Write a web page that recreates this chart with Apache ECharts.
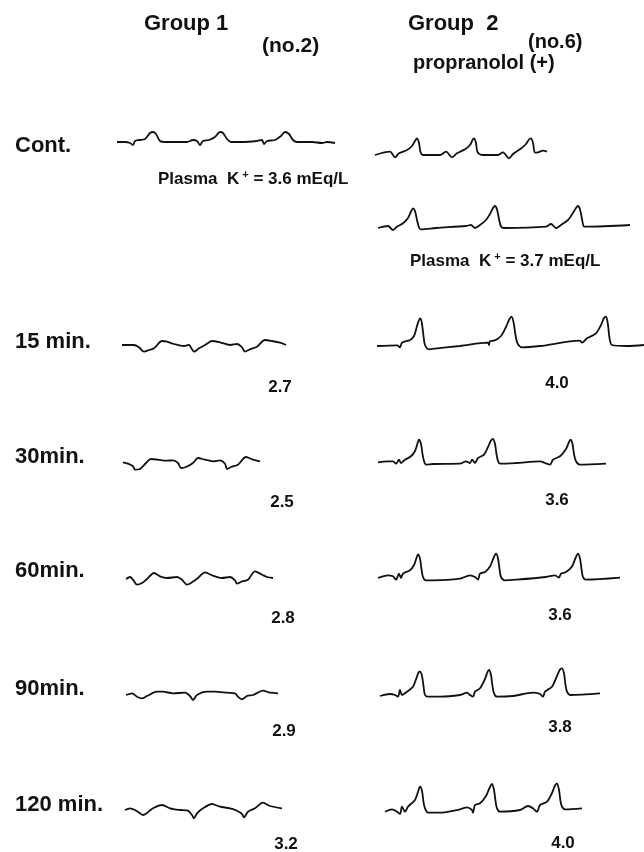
<!DOCTYPE html>
<html>
<head>
<meta charset="utf-8">
<script src="https://cdn.jsdelivr.net/npm/echarts@6/dist/echarts.min.js"></script>
<style>
html,body{margin:0;padding:0;background:#fff;}
#chart{width:644px;height:852px;}
</style>
</head>
<body>
<div id="chart"></div>
<script>
// ---- DATA (time unit ~10 ms, amplitude unit ~0.01 mV; read from the tracings) ----
const rowLabels = ['Cont.', '15 min.', '30min.', '60min.', '90min.', '120 min.'];
const group1K = ['2.7', '2.5', '2.8', '2.9', '3.2'];
const group2K = ['4.0', '3.6', '3.6', '3.8', '4.0'];
const contK1 = '3.6';
const contK2 = '3.7';

// Group 1 (no.2)
const g1Cont = [[0,0],[8,0],[13,-1],[16,-3],[18,1],[22,2],[28,3],[33,9],[36,10],[39,8],[43,1],[48,0],[60,0],[70,0],[76,2],[80,1],[83,-3],[86,1],[92,2],[98,5],[103,10],[106,9],[110,3],[114,0],[125,0],[140,1],[145,2],[147,-2],[150,1],[158,2],[164,6],[168,10],[172,8],[176,2],[180,0],[195,0],[205,-1],[210,0],[218,-1]];
const g1Min15 = [[0,0],[12,0],[17,-2.3],[22,-6.7],[27,-5],[32,-3.3],[40,4],[45,3.3],[52,1],[62,-1],[67,0],[70,-4.3],[72,-6.7],[77,-3.3],[83,0],[90,4],[98,2.7],[108,0],[115,1],[120,-2.3],[123,-6.7],[128,-4.3],[135,-1.7],[143,5],[150,4],[158,2.3],[164,0]];
const g1Min30 = [[0,0.7],[5,-0.7],[10,-3.3],[12,-6.7],[17,-6],[23,0],[28,4],[35,3.3],[43,2.3],[50,2.7],[55,0],[58,-5],[63,-4],[70,0],[75,5],[82,3.3],[90,1.7],[97,2.7],[102,-0.7],[104,-6],[108,-4],[115,-1.7],[123,6],[130,3.3],[137,1.7]];
const g1Min60 = [[0,0],[4,2],[7,-0.7],[11,-5.7],[16,-4],[21,0],[28,6],[34,2.7],[41,1],[51,2],[56,-0.7],[61,-5.7],[66,-3.3],[72,1],[79,6.7],[87,3.3],[96,1],[104,2],[109,-1.3],[111,-4.7],[116,-2.3],[122,-0.7],[129,7.7],[136,4.3],[141,2],[147,1]];
const g1Min90 = [[0,-1],[6,0.7],[11,-2.7],[16,-4.3],[21,-2],[31,2.3],[37,2.3],[47,0.7],[59,1.3],[64,-2],[67,-6],[71,-1],[81,2.3],[89,2.3],[101,1.3],[109,0.7],[112,-2.7],[116,-5.3],[121,-2],[127,-1],[137,3.3],[144,1.3],[152,0.7]];
const g1Min120 = [[0,0],[5,1.7],[10,0],[15,-3.3],[18,-5],[22,-3],[28,1.7],[37,5],[45,1.7],[55,0],[63,-0.7],[67,-5],[69,-8.3],[72,-3.3],[78,1.7],[87,6],[95,3.3],[105,1.7],[112,-0.7],[117,-4],[119,-7.3],[123,-1.7],[130,1.7],[138,7.3],[145,4],[157,1.7]];

// Group 2 (no.6), propranolol (+)
const g2Cont1 = [[0,0],[15,3.3],[20,-2.3],[24,1.7],[32,5],[37,9],[40,14],[42,16.7],[44,12],[45.5,3],[48,0],[65,0],[71,3.3],[77,-2.3],[82,1.7],[90,5.7],[95,10],[97.5,15],[99,16.7],[101,12],[102.5,3],[107,0],[123,0],[128,2.7],[134,-3.3],[138,1],[146,6.5],[151,11],[154,15.5],[156,16.7],[158,12],[160,2.3],[163,2.7],[168,4.3],[172,3.3]];
const g2Cont2 = [[0,0],[10,2],[15,-2],[19,1.3],[25,4.7],[30,10],[33,16.5],[35,19.7],[37,17],[39,8],[41,0.5],[43,-1.3],[58,0],[88,2],[93,3],[97,0],[102,3],[108,8],[112,14],[115,20],[117,22],[119,18.5],[121,9],[123,1.5],[126,0],[168,1.3],[173,4],[178,0],[183,3],[190,8],[194,13.5],[198,20],[200,22],[202,18.5],[204,9],[206,1.5],[209,1.3],[252,3]];
const g2Min15 = [[0,-1],[20,-0.3],[23,-2.3],[25,2.3],[33,5],[37,9],[40,19],[42,25],[43.5,26.7],[45,21],[46.5,9],[48,0],[52,-4.3],[60,-3.3],[83,-1],[111,2.3],[112,0],[113,4],[117,4.3],[124,9],[129,18],[132,25],[134.5,28.3],[136.5,23],[138.5,10],[140.5,1.7],[145,-2.3],[163,-1],[203,4.3],[205,2.3],[210,6.7],[219,11.7],[224,20],[227,27],[229,28.3],[231,20],[232.5,7],[235,0],[250,-1],[267,0]];
const g2Min30 = [[0,0.7],[10,1.7],[15,1.7],[18,-0.7],[21,3.3],[23,0],[27,3.3],[33,6.7],[37,12],[39.5,19.5],[41,23.3],[43,19],[44.5,9],[46,2],[48,-1.7],[55,-1],[82,-0.7],[88,1.7],[92,0],[94,3.3],[97,0],[100,5],[106,8.3],[110,16],[113,22.5],[115,24],[117,19],[118.5,9],[120,2],[122,-0.7],[138,0],[162,1.7],[167,0],[172,-1.7],[175,3.3],[182,6.7],[188,14],[191,21],[192.5,23.3],[194.5,19],[196,9],[198,1.7],[202,-1.7],[228,-0.7]];
const g2Min60 = [[0,-1],[10,1.7],[15,0.7],[18,-2.7],[21,3.3],[23,-1],[25,3.3],[32,6.7],[36,12],[38.5,19],[40,22.7],[42,18.3],[43.5,8],[45,0],[48,-3.3],[55,-3.3],[82,-1.7],[92,1.7],[97,0],[100,-2.7],[102,3.3],[107,5],[112,10.5],[115.5,19],[118,23.3],[120,18.5],[121.5,8],[123,0],[127,-3.3],[138,-2.7],[168,0],[177,1.7],[181,-0.7],[183,3.3],[188,5],[194,10.5],[197.5,19],[200,23.3],[202,18.5],[203.5,8],[205,0],[208,-2.7],[242,-0.7]];
const g2Min90 = [[0,-2],[10,0],[15,-1],[18,-2.7],[20,4],[22,-1],[27,2.3],[33,7.3],[36.5,16],[38.5,21.5],[40,22.3],[42,18],[43.5,8],[45,-1],[48,-2.7],[60,-2.7],[80,-1],[87,1.3],[90,-1],[93,-2.7],[95,2.3],[100,5.7],[105,15],[107.5,22],[109,24],[111,19],[112.5,8],[114,0.7],[117,-2.7],[133,-2],[153,1.3],[160,0],[163,-2.7],[165,2.3],[172,7.3],[177,18],[180,24.5],[182,25.7],[184,20.7],[185.5,9],[187,2.3],[190,-1],[220,0.7]];
const g2Min120 = [[0,-1.7],[7,0.7],[12,-1.7],[15,-4],[17,3.3],[20,-1.7],[23,3.3],[30,10],[33,18],[35,23.3],[37,19],[38.5,8],[40,1.7],[43,-2.7],[55,-2.7],[75,0.7],[82,2.7],[87,0],[88,-2.7],[90,5],[95,6.7],[101,14],[104.5,22],[107,26],[109,20],[110.5,9],[112,1.7],[115,-1.7],[135,0],[143,4],[148,1.7],[152,-1.7],[155,5],[162,8.3],[167,17],[170,24.5],[172,26.7],[174,20],[175.5,9],[177,3.3],[180,0.7],[197,1.7]];

// ---- LAYOUT (pixel placement of each tracing panel: left, baseline, width) ----
const traces = [
  {data: g1Cont,   left: 117, base: 142, width: 218},
  {data: g1Min15,  left: 122, base: 345, width: 164},
  {data: g1Min30,  left: 123, base: 463, width: 137},
  {data: g1Min60,  left: 126, base: 579, width: 147},
  {data: g1Min90,  left: 126, base: 694, width: 152},
  {data: g1Min120, left: 125, base: 810, width: 157},
  {data: g2Cont1,  left: 375, base: 155, width: 172},
  {data: g2Cont2,  left: 378, base: 228, width: 252},
  {data: g2Min15,  left: 377, base: 345, width: 267},
  {data: g2Min30,  left: 378, base: 463, width: 228},
  {data: g2Min60,  left: 378, base: 577, width: 242},
  {data: g2Min90,  left: 380, base: 694, width: 220},
  {data: g2Min120, left: 385, base: 810, width: 197}
];
const Y_MIN = -10, Y_MAX = 30;

const FONT = '"Liberation Sans", Arial, sans-serif';
const grids = [], xAxes = [], yAxes = [], series = [];
traces.forEach((t, i) => {
  grids.push({left: t.left, top: t.base - Y_MAX, width: t.width, height: Y_MAX - Y_MIN, containLabel: false});
  xAxes.push({gridIndex: i, type: 'value', min: 0, max: t.width, show: false});
  yAxes.push({gridIndex: i, type: 'value', min: Y_MIN, max: Y_MAX, show: false});
  series.push({
    type: 'line', xAxisIndex: i, yAxisIndex: i, data: t.data,
    showSymbol: false, smooth: 0.3, silent: true,
    lineStyle: {color: '#111', width: 1.8}
  });
});

function txt(text, x, y, size, align, extra) {
  return {
    type: 'text', silent: true,
    style: Object.assign({
      text: text, x: x, y: y,
      font: 'bold ' + size + 'px ' + FONT,
      fill: '#111', align: align || 'left', verticalAlign: 'middle'
    }, extra || {})
  };
}

const rowY = [146, 342, 457, 571, 689, 805];
const g1ValPos = [[280, 387], [282, 502], [283, 618], [284, 731], [286, 844]];
const g2ValPos = [[557, 383], [557, 500], [560, 615], [560, 727], [563, 843]];

const graphics = [
  txt('Group 1', 144, 24, 22),
  txt('Group  2', 408, 24, 22),
  txt('(no.2)', 262, 46, 21),
  txt('propranolol (+)', 413, 63, 20),
  txt('(no.6)', 528, 42, 20)
];
rowLabels.forEach((r, i) => graphics.push(txt(r, 15, rowY[i], 22)));
group1K.forEach((v, i) => graphics.push(txt(v, g1ValPos[i][0], g1ValPos[i][1], 17, 'center')));
group2K.forEach((v, i) => graphics.push(txt(v, g2ValPos[i][0], g2ValPos[i][1], 17, 'center')));
const richK = {sup: {font: 'bold 11px ' + FONT, fill: '#111', verticalAlign: 'top', lineHeight: 20}, n: {font: 'bold 17px ' + FONT, fill: '#111', lineHeight: 20}};
graphics.push(txt('{n|Plasma  K}{sup| +}{n| = ' + contK1 + ' mEq/L}', 158, 179, 17, 'left', {rich: richK}));
graphics.push(txt('{n|Plasma  K}{sup| +}{n| = ' + contK2 + ' mEq/L}', 410, 261, 17, 'left', {rich: richK}));

const chart = echarts.init(document.getElementById('chart'), null, {renderer: 'canvas'});
chart.setOption({
  animation: false,
  backgroundColor: '#fff',
  grid: grids, xAxis: xAxes, yAxis: yAxes, series: series,
  graphic: graphics
});
</script>
</body>
</html>
